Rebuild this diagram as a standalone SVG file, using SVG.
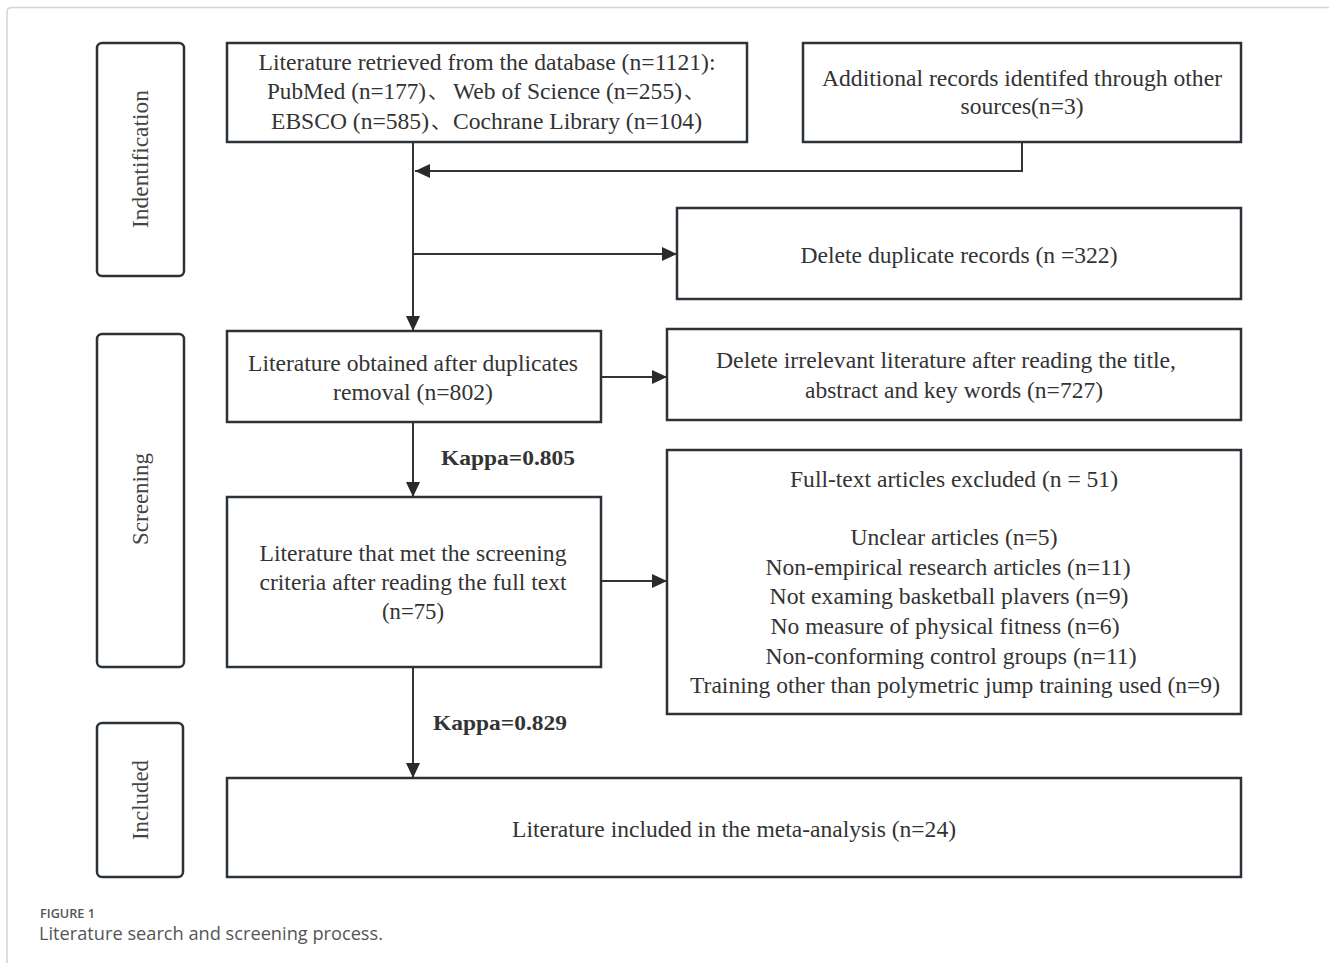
<svg xmlns="http://www.w3.org/2000/svg" width="1329" height="963" viewBox="0 0 1329 963">
<style>
.box{fill:#fff;stroke:#2b3338;stroke-width:2.5}
.pill{fill:#fff;stroke:#2b3338;stroke-width:2.5}
.t{font-family:"Liberation Serif","Times New Roman",serif;font-size:23px;fill:#333;text-anchor:middle}
.ts{font-family:"Liberation Serif","Times New Roman",serif;font-size:23px;fill:#333}
.cjk{font-family:"Noto Sans CJK SC","Noto Sans CJK JP",sans-serif;font-size:20px;fill:#333}
.k{font-family:"Liberation Serif","Times New Roman",serif;font-size:22px;font-weight:bold;fill:#333}
.lab{font-family:"Liberation Serif","Times New Roman",serif;font-size:23px;fill:#444;text-anchor:middle}
.c{fill:none;stroke:#333;stroke-width:2}
.cap1{font-family:"Open Sans","Noto Sans",sans-serif;font-size:13px;font-weight:600;fill:#555}
.cap2{font-family:"Open Sans","Noto Sans",sans-serif;font-size:18px;fill:#555}
</style>
<defs>
<marker id="ah" markerUnits="userSpaceOnUse" markerWidth="16" markerHeight="14" viewBox="0 0 16 14" refX="15" refY="7" orient="auto">
<path d="M0,0 L15,7 L0,14 z" fill="#2a2a2a"/>
</marker>
</defs>
<rect width="1329" height="963" fill="#fff"/>
<path d="M7,963 L7,12 Q7,7.5 12,7.5 L1329,7.5" fill="none" stroke="#d4d4d4" stroke-width="1.5"/>

<g id="stage-identification">
<rect class="pill" x="97" y="43" width="87" height="233" rx="5"/>
<text class="lab" transform="translate(148,159) rotate(-90)" textLength="138" lengthAdjust="spacingAndGlyphs">Indentification</text>
</g>
<g id="stage-screening">
<rect class="pill" x="97" y="334" width="87" height="333" rx="5"/>
<text class="lab" transform="translate(148,499) rotate(-90)" textLength="92" lengthAdjust="spacingAndGlyphs">Screening</text>
</g>
<g id="stage-included">
<rect class="pill" x="97" y="723" width="86" height="154" rx="5"/>
<text class="lab" transform="translate(148,800) rotate(-90)" textLength="80" lengthAdjust="spacingAndGlyphs">Included</text>
</g>

<g id="connectors">
<polyline class="c" points="1022,142 1022,171 415,171" marker-end="url(#ah)"/>
<line class="c" x1="413" y1="142" x2="413" y2="331" marker-end="url(#ah)"/>
<line class="c" x1="413" y1="254" x2="677" y2="254" marker-end="url(#ah)"/>
<line class="c" x1="601" y1="377" x2="667" y2="377" marker-end="url(#ah)"/>
<line class="c" x1="413" y1="422" x2="413" y2="497" marker-end="url(#ah)"/>
<line class="c" x1="601" y1="581" x2="667" y2="581" marker-end="url(#ah)"/>
<line class="c" x1="413" y1="667" x2="413" y2="778" marker-end="url(#ah)"/>
<text class="k" x="441" y="465" textLength="134" lengthAdjust="spacingAndGlyphs">Kappa=0.805</text>
<text class="k" x="433" y="730" textLength="134" lengthAdjust="spacingAndGlyphs">Kappa=0.829</text>
</g>

<g id="retrieved">
<rect class="box" x="227" y="43" width="520" height="99"/>
<text class="t" x="487" y="70" textLength="457" lengthAdjust="spacingAndGlyphs">Literature retrieved from the database (n=1121):</text>
<text class="ts" x="267" y="99" textLength="159" lengthAdjust="spacingAndGlyphs">PubMed (n=177)</text>
<text class="cjk" x="428" y="99">、</text>
<text class="ts" x="453" y="99" textLength="229" lengthAdjust="spacingAndGlyphs">Web of Science (n=255)</text>
<text class="cjk" x="684" y="99">、</text>
<text class="ts" x="271" y="129" textLength="158" lengthAdjust="spacingAndGlyphs">EBSCO (n=585)</text>
<text class="cjk" x="431" y="129">、</text>
<text class="ts" x="453" y="129" textLength="249" lengthAdjust="spacingAndGlyphs">Cochrane Library (n=104)</text>
</g>
<g id="additional">
<rect class="box" x="803" y="43" width="438" height="99"/>
<text class="t" x="1022" y="86" textLength="400" lengthAdjust="spacingAndGlyphs">Additional records identifed through other</text>
<text class="t" x="1022" y="114" textLength="123" lengthAdjust="spacingAndGlyphs">sources(n=3)</text>
</g>
<g id="duplicates">
<rect class="box" x="677" y="208" width="564" height="91"/>
<text class="t" x="959" y="263" textLength="317" lengthAdjust="spacingAndGlyphs">Delete duplicate records (n =322)</text>
</g>
<g id="after-dup">
<rect class="box" x="227" y="331" width="374" height="91"/>
<text class="t" x="413" y="371" textLength="330" lengthAdjust="spacingAndGlyphs">Literature obtained after duplicates</text>
<text class="t" x="413" y="400" textLength="160" lengthAdjust="spacingAndGlyphs">removal (n=802)</text>
</g>
<g id="irrelevant">
<rect class="box" x="667" y="329" width="574" height="91"/>
<text class="t" x="946" y="368" textLength="460" lengthAdjust="spacingAndGlyphs">Delete irrelevant literature after reading the title,</text>
<text class="t" x="954" y="398" textLength="298" lengthAdjust="spacingAndGlyphs">abstract and key words (n=727)</text>
</g>
<g id="fulltext">
<rect class="box" x="227" y="497" width="374" height="170"/>
<text class="t" x="413" y="561" textLength="307" lengthAdjust="spacingAndGlyphs">Literature that met the screening</text>
<text class="t" x="413" y="590" textLength="307" lengthAdjust="spacingAndGlyphs">criteria after reading the full text</text>
<text class="t" x="413" y="619" textLength="62" lengthAdjust="spacingAndGlyphs">(n=75)</text>
</g>
<g id="excluded">
<rect class="box" x="667" y="450" width="574" height="264"/>
<text class="t" x="954" y="487" textLength="328" lengthAdjust="spacingAndGlyphs">Full-text articles excluded (n = 51)</text>
<text class="t" x="954" y="545" textLength="207" lengthAdjust="spacingAndGlyphs">Unclear articles (n=5)</text>
<text class="t" x="948" y="575" textLength="365" lengthAdjust="spacingAndGlyphs">Non-empirical research articles (n=11)</text>
<text class="t" x="949" y="604" textLength="359" lengthAdjust="spacingAndGlyphs">Not examing basketball plavers (n=9)</text>
<text class="t" x="945" y="634" textLength="349" lengthAdjust="spacingAndGlyphs">No measure of physical fitness (n=6)</text>
<text class="t" x="951" y="664" textLength="371" lengthAdjust="spacingAndGlyphs">Non-conforming control groups (n=11)</text>
<text class="t" x="955" y="693" textLength="530" lengthAdjust="spacingAndGlyphs">Training other than polymetric jump training used (n=9)</text>
</g>
<g id="included">
<rect class="box" x="227" y="778" width="1014" height="99"/>
<text class="t" x="734" y="837" textLength="444" lengthAdjust="spacingAndGlyphs">Literature included in the meta-analysis (n=24)</text>
</g>

<g id="caption">
<text class="cap1" x="40" y="918" textLength="55" lengthAdjust="spacingAndGlyphs">FIGURE 1</text>
<text class="cap2" x="39" y="940" textLength="344" lengthAdjust="spacingAndGlyphs">Literature search and screening process.</text>
</g>
</svg>
